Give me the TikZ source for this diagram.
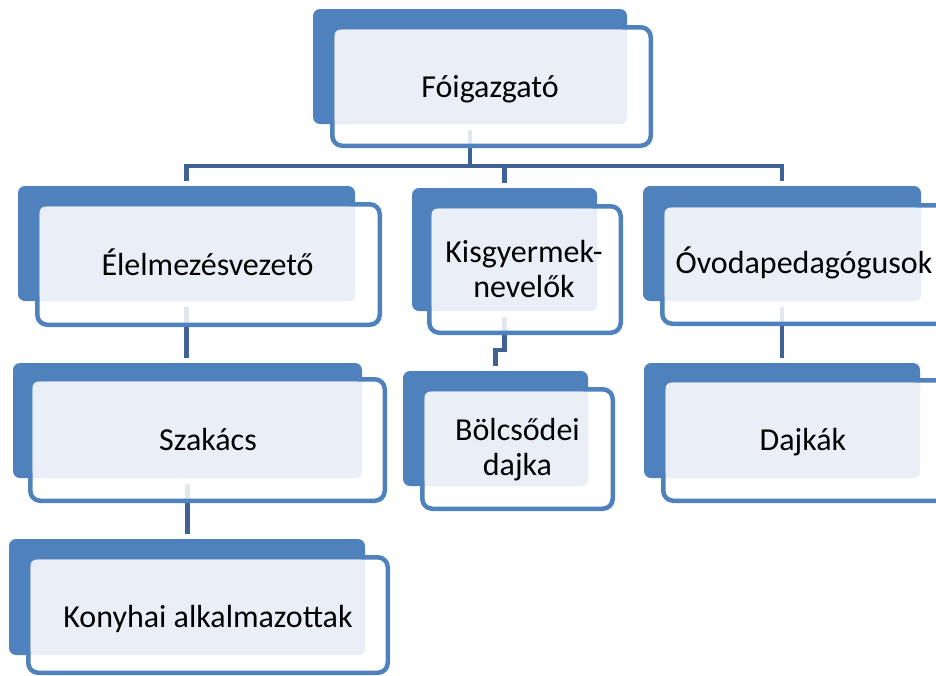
\documentclass[tikz,border=0pt]{standalone}
\usepackage{fontspec}
\setmainfont{Carlito}
\usetikzlibrary{calc,backgrounds}
\definecolor{backc}{HTML}{4F81BD}
\definecolor{edgec}{HTML}{4F81BD}
\definecolor{lightc}{HTML}{EAEFF7}
\definecolor{connc}{HTML}{3F6296}
\newcommand\orgbox[9]{%
  \node[backbox, minimum width={#4-#2}, minimum height={#5-#3}] (#1) at ({(#2+#4)/2},{(#3+#5)/2}) {};
  \node[frontbox, minimum width={#8-#6-4.5}, minimum height={#9-#7-4.5}] (#1f) at ({(#6+#8)/2},{(#7+#9)/2}) {};
  \fill[lightfill] ($(#1f.north west)+(2.25,2.25)$) rectangle (#1.south east);
}
\begin{document}
\begin{tikzpicture}[x=1pt,y=-1pt,
  backbox/.style={fill=backc, draw=none, rounded corners=7pt, inner sep=0pt, outer sep=0pt},
  frontbox/.style={draw=edgec, line width=4.5pt, fill=white, fill opacity=0.85, rounded corners=10pt, inner sep=0pt, outer sep=0pt},
  lightfill/.style={fill=lightc, rounded corners=6pt},
  conn/.style={draw=connc, line width=4.5pt, shorten <=6pt, shorten >=5pt},
  txt/.style={font=\fontsize{32}{35}\selectfont, text=black, inner sep=0pt, anchor=base}]
\path[use as bounding box] (0,0) rectangle (936,675);
\clip (0,0) rectangle (936,675);

\orgbox{b0}{313}{9}{627}{124}{330}{25}{653}{148}
\orgbox{b1}{18}{186}{355}{301}{35}{202}{382}{327}
\orgbox{b2}{13}{363}{362}{478}{28}{377}{387}{503}
\orgbox{b3}{9}{539}{365}{655}{26}{555}{390}{675}
\orgbox{b4}{412}{188}{597}{311}{427}{204}{623}{335}
\orgbox{b5}{403}{371}{588}{486}{420}{387}{615}{511}
\orgbox{b6}{643}{186}{921}{301}{660}{203}{960}{326}
\orgbox{b7}{644}{363}{920}{478}{661}{378}{960}{503}

\node[txt] (t0) at (490,97) {Fóigazgató};
\node[txt] (t1) at (207.5,275) {Élelmezésvezető};
\node[txt] (t2) at (208,450) {Szakács};
\node[txt] (t3) at (208,627) {Konyhai alkalmazottak};
\node[txt] (t4) at (524,262) {\begin{tabular}[t]{@{}c@{}}Kisgyermek-\\nevelők\end{tabular}};
\node[txt] (t5) at (517.5,440) {\begin{tabular}[t]{@{}c@{}}Bölcsődei\\dajka\end{tabular}};
\node[txt] (t6) at (804,273) {Óvodapedagógusok};
\node[txt] (t7) at (803,450) {Dajkák};

\coordinate (bar) at (0,166);
\coordinate (jog) at (0,350);
\begin{pgfonlayer}{background}
\draw[conn] (b0.south) -- (b0.south |- bar) -| (b1.north);
\draw[conn] (b0.south) -- (b0.south |- bar) -| (b4.north);
\draw[conn] (b0.south) -- (b0.south |- bar) -| (b6.north);
\draw[conn] (b1.south) -- (b1.south |- b2.north);
\draw[conn] (b2.south) -- (b2.south |- b3.north);
\draw[conn] (b4.south) -- (b4.south |- jog) -| (b5.north);
\draw[conn] (b6.south) -- (b7.north);
\end{pgfonlayer}
\end{tikzpicture}
\end{document}
